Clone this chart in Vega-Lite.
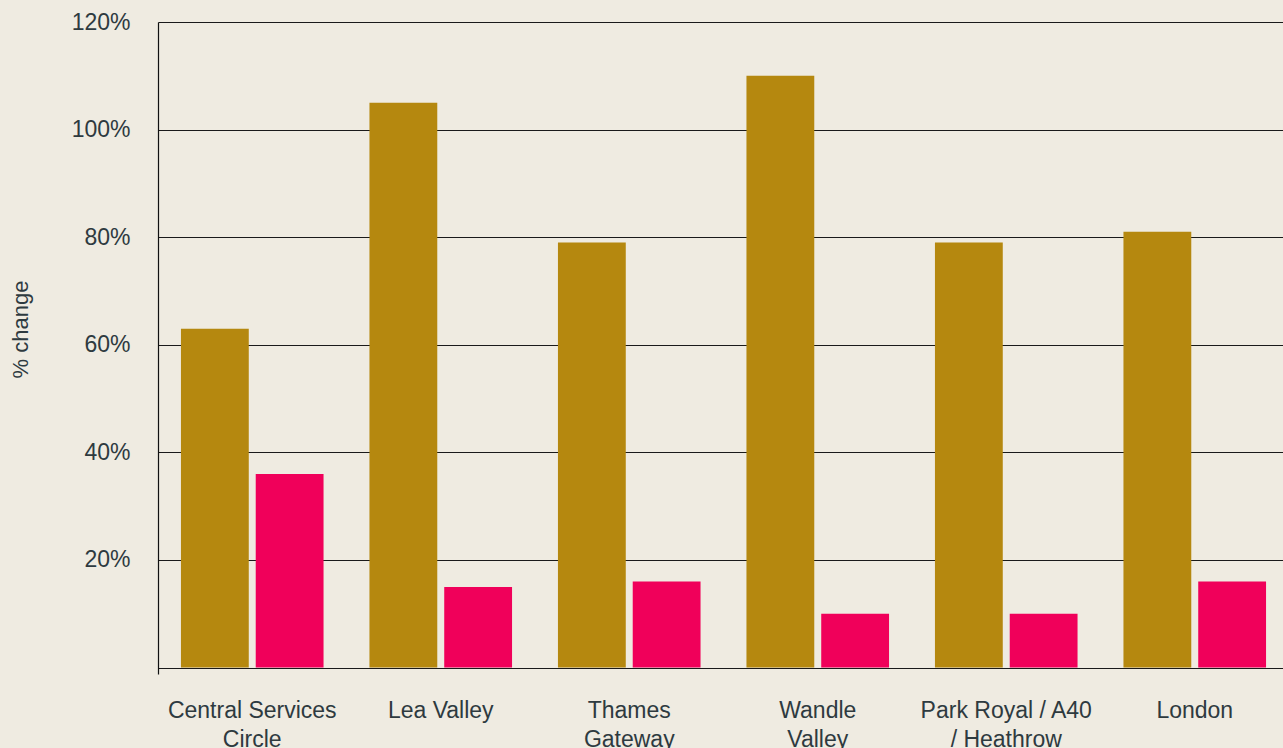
{
  "$schema": "https://vega.github.io/schema/vega-lite/v6.json",
  "width": 1125,
  "height": 652,
  "autosize": {"type": "none"},
  "padding": {"left": 158, "top": 22, "right": 0, "bottom": 74},
  "background": "#EFEBE1",
  "config": {"view": {"stroke": null}, "font": "Liberation Sans"},
  "data": {
    "values": [
      {"region": "Central Services Circle", "series": "A", "value": 63},
      {"region": "Central Services Circle", "series": "B", "value": 36},
      {"region": "Lea Valley", "series": "A", "value": 105},
      {"region": "Lea Valley", "series": "B", "value": 15},
      {"region": "Thames Gateway", "series": "A", "value": 79},
      {"region": "Thames Gateway", "series": "B", "value": 16},
      {"region": "Wandle Valley", "series": "A", "value": 110},
      {"region": "Wandle Valley", "series": "B", "value": 10},
      {"region": "Park Royal / A40 / Heathrow", "series": "A", "value": 79},
      {"region": "Park Royal / A40 / Heathrow", "series": "B", "value": 10},
      {"region": "London", "series": "A", "value": 81},
      {"region": "London", "series": "B", "value": 16}
    ]
  },
  "mark": {"type": "bar"},
  "encoding": {
    "x": {
      "field": "region",
      "type": "nominal",
      "sort": null,
      "scale": {"paddingInner": 0, "paddingOuter": 0, "range": [0, 1131]},
      "axis": {
        "title": null,
        "domain": false,
        "ticks": false,
        "labelAngle": 0,
        "labelFontSize": 23,
        "labelColor": "#2E3A3F",
        "labelPadding": 25,
        "labelLineHeight": 29,
        "labelLimit": 300,
        "labelExpr": "datum.value == 'Central Services Circle' ? ['Central Services', 'Circle'] : datum.value == 'Thames Gateway' ? ['Thames', 'Gateway'] : datum.value == 'Wandle Valley' ? ['Wandle', 'Valley'] : datum.value == 'Park Royal / A40 / Heathrow' ? ['Park Royal / A40', '/ Heathrow'] : datum.value"
      }
    },
    "xOffset": {
      "field": "series",
      "type": "nominal",
      "scale": {"paddingInner": 0.093, "paddingOuter": 0.307}
    },
    "y": {
      "field": "value",
      "type": "quantitative",
      "scale": {"domain": [-1.19, 120], "nice": false, "zero": false},
      "axis": {
        "values": [0, 20, 40, 60, 80, 100, 120],
        "labelExpr": "datum.value == 0 ? '' : datum.value + '%'",
        "grid": true,
        "gridColor": "#1A1A1A",
        "gridOpacity": 1,
        "gridWidth": 1,
        "domain": true,
        "domainColor": "#111111",
        "domainWidth": 1.2,
        "ticks": false,
        "labelPadding": 28,
        "labelFontSize": 23,
        "labelColor": "#2E3A3F",
        "title": "% change",
        "titleFontSize": 22,
        "titleFontWeight": "normal",
        "titleColor": "#2E3A3F",
        "titleX": -138,
        "titleY": 307,
        "titleAngle": -90,
        "titleAlign": "center",
        "titleBaseline": "middle"
      }
    },
    "color": {
      "field": "series",
      "type": "nominal",
      "scale": {"range": ["#B5880F", "#F0005A"]},
      "legend": null
    }
  }
}
